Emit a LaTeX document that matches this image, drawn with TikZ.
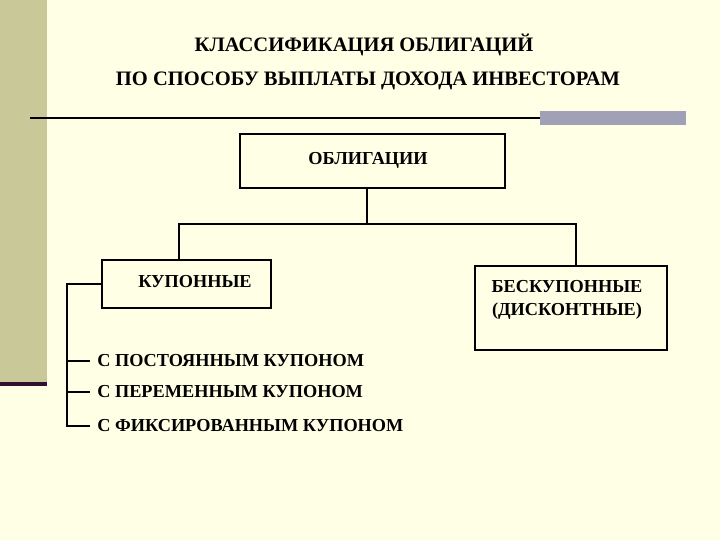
\documentclass[tikz,border=0pt]{standalone}
\usepackage{fontspec}
\setmainfont{Liberation Serif}
\usetikzlibrary{positioning}

\definecolor{cream}{RGB}{255,255,230}
\definecolor{olive}{RGB}{200,200,152}
\definecolor{plum}{RGB}{48,18,48}
\definecolor{slate}{RGB}{160,160,182}

\tikzset{
  box/.style={draw, line width=0.8pt, inner sep=0pt},
  label/.style={font=\bfseries\fontsize{13}{16.5}\selectfont},
  item/.style={label, anchor=west, inner xsep=5pt, inner ysep=1pt},
  heading/.style={font=\bfseries\fontsize{14.6}{17}\selectfont},
  link/.style={line width=0.8pt}
}

\begin{document}
\begin{tikzpicture}[x=0.025cm, y=-0.025cm]

% Background
\fill[cream] (0,0) rectangle (720,540);
\useasboundingbox (0,0) rectangle (720,540);
\fill[olive] (0,0) rectangle (47,382);
\fill[plum] (0,382) rectangle (47,386);

% Title
\node[heading] (t1) at (364,45) {КЛАССИФИКАЦИЯ ОБЛИГАЦИЙ};
\node[heading] (t2) at (368,81) {ПО СПОСОБУ ВЫПЛАТЫ ДОХОДА ИНВЕСТОРАМ};

% Rule under the title
\fill[slate] (540,111) rectangle (686,125);
\draw[line width=1.6pt] (30,118) -- (540,118);

% Boxes
\node[box, minimum width=265*0.025cm, minimum height=54*0.025cm] (obl) at (372.5,161) {};
\node[label] (obltxt) at (368,160) {ОБЛИГАЦИИ};
\node[box, minimum width=169*0.025cm, minimum height=48*0.025cm] (kup) at (186.5,284) {};
\node[label] (kuptxt) at (195,282) {КУПОННЫЕ};
\node[box, minimum width=192*0.025cm, minimum height=84*0.025cm] (bes) at (571,308) {};
\node[label, align=center] (bestxt) at (567,300) {БЕСКУПОННЫЕ\\(ДИСКОНТНЫЕ)};

% Tree
\coordinate (bus) at (367,224);
\draw[link] ([xshift=-5.5*0.025cm]obl.south) -- (bus);
\draw[link] ([xshift=-7.5*0.025cm]kup.north) |- (bus)
  -| ([xshift=5*0.025cm]bes.north);

% Coupon kinds
\node[item] (k1) at (90,361) {С ПОСТОЯННЫМ КУПОНОМ};
\node[item] (k2) at (90,392) {С ПЕРЕМЕННЫМ КУПОНОМ};
\node[item] (k3) at (90,426) {С ФИКСИРОВАННЫМ КУПОНОМ};
\coordinate (brk) at (67,426);
\draw[link] (kup.west) -| (brk) -- (k3.west);
\draw[link] (brk |- k1.west) -- (k1.west);
\draw[link] (brk |- k2.west) -- (k2.west);

\end{tikzpicture}
\end{document}
